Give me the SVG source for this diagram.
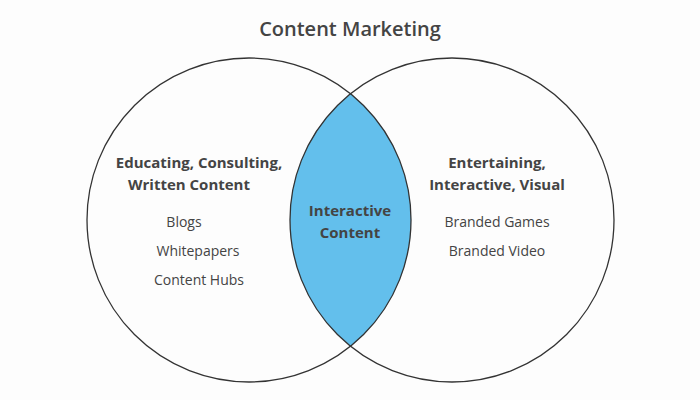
<svg xmlns="http://www.w3.org/2000/svg" width="700" height="400" viewBox="0 0 700 400">
<style>
.c{fill:none;stroke:#333;stroke-width:1.3}
text{font-family:"Open Sans","Noto Sans",sans-serif;fill:#444;text-anchor:middle}
.h{font-size:15px;font-weight:bold}
.i{font-size:14px}
</style>
<rect width="700" height="400" fill="#fdfdfd"/>
<text x="350" y="36" style="font-size:20px;font-weight:600">Content Marketing</text>
<g id="lens"><path d="M350.5,93.7 A162,162 0 0 1 350.5,346.3 A162,162 0 0 1 350.5,93.7 Z" fill="#63bfec"/></g>
<g id="left"><circle class="c" cx="249" cy="220" r="162"/>
<text class="h" x="199" y="168">Educating, Consulting,</text>
<text class="h" x="189" y="190">Written Content</text>
<text class="i" x="184" y="227">Blogs</text>
<text class="i" x="198" y="256">Whitepapers</text>
<text class="i" x="199" y="285">Content Hubs</text></g>
<g id="right"><circle class="c" cx="452" cy="220" r="162"/>
<text class="h" x="497" y="168">Entertaining,</text>
<text class="h" x="497" y="190">Interactive, Visual</text>
<text class="i" x="497" y="227">Branded Games</text>
<text class="i" x="497" y="256">Branded Video</text></g>
<g id="center"><text class="h" x="350" y="216">Interactive</text>
<text class="h" x="350" y="238">Content</text></g>
</svg>
